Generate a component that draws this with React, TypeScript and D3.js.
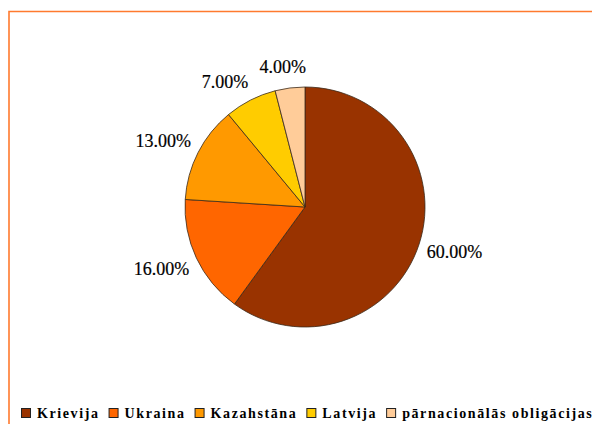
import React, { useEffect, useRef } from "react";
import * as d3 from "d3";

const categories = ["Krievija", "Ukraina", "Kazahstāna", "Latvija", "pārnacionālās obligācijas"];
const values = [60, 16, 13, 7, 4];
const colors = ["#993300", "#ff6600", "#ff9900", "#ffcc00", "#ffcc99"];

const W = 592;
const H = 424;

export default function App() {
  const ref = useRef<SVGSVGElement | null>(null);

  useEffect(() => {
    const svg = d3.select(ref.current);
    svg.selectAll("*").remove();

    // frame
    svg.append("path")
      .attr("d", `M9,${H + 5} L9,11.5 L${W + 5},11.5`)
      .attr("fill", "none")
      .attr("stroke", "#ff7a2e")
      .attr("stroke-width", 1.6);

    const cx = 305, cy = 207, r = 120;
    const g = svg.append("g").attr("transform", `translate(${cx},${cy})`);
    const pie = d3.pie<number>().sort(null).value((d) => d);
    const arcs = pie(values);
    const arc = d3.arc<d3.PieArcDatum<number>>().innerRadius(0).outerRadius(r);

    g.selectAll("path.slice")
      .data(arcs)
      .enter()
      .append("path")
      .attr("class", "slice")
      .attr("d", arc)
      .attr("fill", (_, i) => colors[i])
      .attr("stroke", "#3a2a1a")
      .attr("stroke-width", 0.8);

    // labels
    const total = d3.sum(values);
    const fmt = (v: number) => ((v / total) * 100).toFixed(2) + "%";
    const clamp = (v: number) => Math.max(-1, Math.min(1, v));
    arcs.forEach((a) => {
      const mid = (a.startAngle + a.endAngle) / 2;
      const s = Math.sin(mid), c = Math.cos(mid);
      const t = g.append("text")
        .text(fmt(a.data))
        .attr("font-family", "'Liberation Serif', 'Times New Roman', serif")
        .attr("font-size", 18)
        .attr("fill", "#000")
        .attr("stroke", "#000")
        .attr("stroke-width", 0.2)
        .attr("text-anchor", "middle");
      const node = t.node() as SVGTextElement;
      const w = node.getComputedTextLength();
      const h = 18;
      // narrow slices get their label pushed a little further out
      const r0 = 128 + Math.max(0, 0.1 - (a.endAngle - a.startAngle) / (2 * Math.PI)) * 60;
      const px = r0 * s + (w / 2) * clamp(s * 2);
      const py = -r0 * c + (h / 2) * clamp(-c * 2);
      t.attr("x", px).attr("y", py + 6);
    });

    // legend
    const lg = svg.append("g");
    let x = 21;
    const ly = 408;
    categories.forEach((cat, i) => {
      lg.append("rect")
        .attr("x", x + 0.5)
        .attr("y", ly + 0.5)
        .attr("width", 9)
        .attr("height", 9)
        .attr("fill", colors[i])
        .attr("stroke", "#222")
        .attr("stroke-width", 1);
      const t = lg.append("text")
        .attr("x", x + 16)
        .attr("y", ly + 10)
        .text(cat)
        .attr("font-family", "'Liberation Serif', 'Times New Roman', serif")
        .attr("font-weight", "bold")
        .attr("font-size", 14)
        .attr("letter-spacing", 1.6)
        .attr("fill", "#000");
      const w = (t.node() as SVGTextElement).getComputedTextLength();
      x += 16 + w + 9;
    });
  }, []);

  return (
    <svg
      ref={ref}
      width={W}
      height={H}
      style={{ position: "absolute", left: 0, top: 0, background: "#fff" }}
    />
  );
}
